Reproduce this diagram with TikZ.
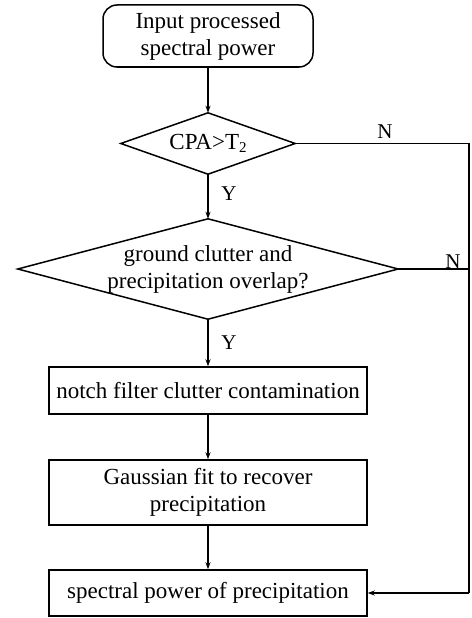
\documentclass[tikz,border=0pt]{standalone}
\usepackage{fontspec}
\setmainfont{Liberation Serif}
\usetikzlibrary{arrows.meta}
\begin{document}
\begin{tikzpicture}[x=1pt,y=-1pt,
  every node/.style={font=\fontsize{23}{27}\selectfont, text=black},
  rbox/.style={draw, line width=1.5pt, rounded corners=14pt, minimum width=210pt, minimum height=62pt, align=center, inner sep=0pt},
  pbox/.style={draw, line width=1.5pt, minimum width=318pt, align=center, inner sep=0pt},
  dec/.style={align=center, inner sep=0pt},
  line/.style={line width=1.5pt},
  arr/.style={line width=1.5pt, -{Stealth[length=7pt,width=5pt]}},
  lab/.style={inner sep=0pt, font=\fontsize{21}{24}\selectfont}
]
\useasboundingbox (0,0) rectangle (471,618);
\node[rbox] (start) at (208,36) {Input processed\\spectral power};
\node[dec, minimum width=174pt, minimum height=61pt] (d1) at (208,143.5) {CPA>T\raisebox{-0.1em}{\fontsize{15}{15}\selectfont 2}};
\draw[line] (d1.north) -- (d1.east) -- (d1.south) -- (d1.west) -- cycle;
\node[dec, minimum width=380pt, minimum height=100pt] (d2) at (208,269) {ground clutter and\\precipitation overlap?};
\draw[line] (d2.north) -- (d2.east) -- (d2.south) -- (d2.west) -- cycle;
\node[pbox, minimum height=47pt] (b1) at (208,390.5) {notch filter clutter contamination};
\node[pbox, minimum height=65pt] (b2) at (208,492.5) {Gaussian fit to recover\\precipitation};
\node[pbox, minimum height=46pt] (b3) at (208,593) {spectral power of precipitation};
\coordinate (c1) at (469,143.5);
\coordinate (c2) at (469,593);
\coordinate (c3) at (469,269);
\draw[arr] (start.south) -- (d1.north);
\draw[arr] (d1.south) -- (d2.north);
\draw[arr] (d2.south) -- (b1.north);
\draw[arr] (b1.south) -- (b2.north);
\draw[arr] (b2.south) -- (b3.north);
\draw[line] (d1.east) -- (c1) -- (c2);
\draw[arr] (c2) -- (b3.east);
\draw[line] (d2.east) -- (c3);
\node[lab] (n1) at (385,132) {N};
\node[lab] (n2) at (453,262) {N};
\node[lab] (y1) at (229,194) {Y};
\node[lab] (y2) at (229,343) {Y};
\end{tikzpicture}
\end{document}
